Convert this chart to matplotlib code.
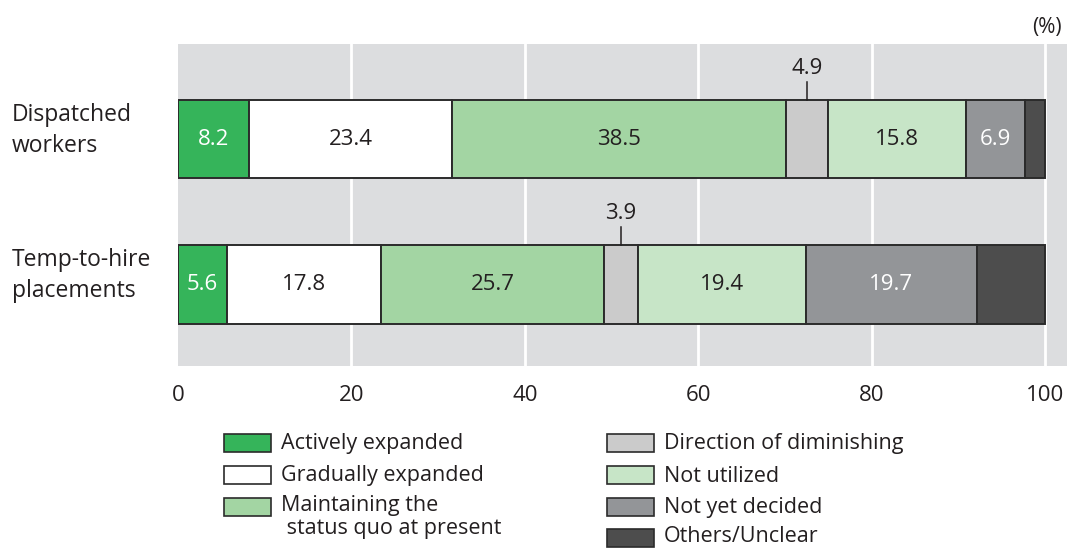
import matplotlib
matplotlib.use("Agg")
import matplotlib.pyplot as plt
from matplotlib.patches import Rectangle
from matplotlib.transforms import blended_transform_factory

plt.rcParams['font.family'] = ['Open Sans', 'DejaVu Sans']

groups = ["Dispatched\nworkers", "Temp-to-hire\nplacements"]
categories = ["Actively expanded", "Gradually expanded", "Maintaining the\n status quo at present",
              "Direction of diminishing", "Not utilized", "Not yet decided", "Others/Unclear"]
dispatched = [8.2, 23.4, 38.5, 4.9, 15.8, 6.9, 2.3]
temp_to_hire = [5.6, 17.8, 25.7, 3.9, 19.4, 19.7, 7.9]
show_label = [[True, True, True, "out", True, True, False],
              [True, True, True, "out", True, True, False]]
colors = ["#35b45a", "#ffffff", "#a3d5a3", "#cbcbcb", "#c7e5c7", "#939598", "#4d4d4d"]
text_colors = ["white", "#231f20", "#231f20", "#231f20", "#231f20", "white", "white"]
xticks = [0, 20, 40, 60, 80, 100]

W, H = 1067, 549
fig = plt.figure(figsize=(W / 100, H / 100), dpi=100)
ax = fig.add_axes([178 / W, 1 - 366 / H, (1067 - 178) / W, (366 - 44) / H])
ax.set_facecolor("#dcdddf")
ax.set_xlim(0, 102.5)
ax.set_ylim(1.562, -0.655)
for s in ax.spines.values():
    s.set_visible(False)
ax.set_xticks(xticks)
ax.set_xticklabels([str(t) for t in xticks], fontsize=16, color="#231f20")
ax.tick_params(axis='x', length=0, pad=14)
ax.set_yticks([])
for t in xticks[1:]:
    ax.axvline(t, color="white", lw=2, zorder=0.5)

data = [dispatched, temp_to_hire]
bar_h = 0.54
for gi, vals in enumerate(data):
    left = 0
    for ci, v in enumerate(vals):
        ax.barh(gi, v, left=left, height=bar_h, color=colors[ci], edgecolor="#2b2b2b",
                linewidth=1.4, zorder=2)
        lab = show_label[gi][ci]
        cx = left + v / 2
        if lab == "out":
            ax.plot([cx, cx], [gi - bar_h / 2, gi - bar_h / 2 - 0.125], color="#231f20", lw=1.1, zorder=3)
            ax.text(cx, gi - bar_h / 2 - 0.215, f"{v}", ha="center", va="center", fontsize=16,
                    color="#231f20", zorder=3)
        elif lab:
            ax.text(cx, gi, f"{v}", ha="center", va="center", fontsize=16,
                    color=text_colors[ci], zorder=3)
        left += v

trans = blended_transform_factory(fig.transFigure, ax.transData)
for gi, g in enumerate(groups):
    ax.text(12 / W, gi - 0.06, g, transform=trans, ha="left", va="center", fontsize=16.5,
            color="#231f20", linespacing=1.42)

fig.text(1062 / W, 1 - 27 / H, "(%)", ha="right", va="center", fontsize=15, color="#231f20")

# legend
col_x = [224, 607]
row_y = [443, 475, 507, 538]
layout = [(0, 0), (0, 1), (0, 2), (1, 0), (1, 1), (1, 2), (1, 3)]
pw, ph = 47, 18
for ci, (c, r) in enumerate(layout):
    x0 = col_x[c]
    y0 = row_y[r]
    fig.add_artist(Rectangle((x0 / W, 1 - (y0 + ph / 2) / H), pw / W, ph / H,
                             transform=fig.transFigure, facecolor=colors[ci],
                             edgecolor="#2b2b2b", linewidth=1.2))
    if "\n" in categories[ci]:
        fig.text((x0 + pw + 10) / W, 1 - (y0 - 12) / H, categories[ci], ha="left", va="top",
                 fontsize=15.5, color="#231f20", linespacing=1.12)
    else:
        ty = y0 + 1 if r < 3 else y0 - 1
        fig.text((x0 + pw + 10) / W, 1 - ty / H, categories[ci], ha="left", va="center",
                 fontsize=15.5, color="#231f20")

fig.savefig("out.png", dpi=100)
